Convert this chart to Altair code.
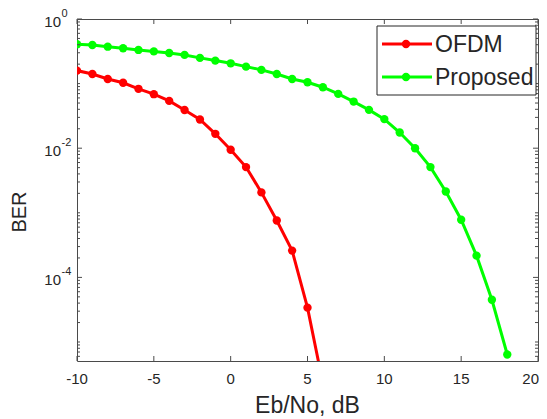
import altair as alt
import pandas as pd

# ---- data ----
series_names = ["OFDM", "Proposed"]
series_colors = ["#ff0000", "#00ff00"]

ebno_ofdm = [-10, -9, -8, -7, -6, -5, -4, -3, -2, -1, 0, 1, 2, 3, 4, 5, 6]
ber_ofdm = [0.159, 0.141, 0.118, 0.103, 0.083, 0.0686, 0.054, 0.039, 0.0278,
            0.0167, 0.00945, 0.0051, 0.00207, 7.6e-4, 2.6e-4, 3.4e-5, 2.3e-6]

ebno_prop = [-10, -9, -8, -7, -6, -5, -4, -3, -2, -1, 0, 1, 2, 3, 4, 5, 6, 7,
             8, 9, 10, 11, 12, 13, 14, 15, 16, 17, 18]
ber_prop = [0.406, 0.396, 0.373, 0.352, 0.332, 0.315, 0.298, 0.278, 0.250,
            0.227, 0.206, 0.183, 0.163, 0.141, 0.118, 0.105, 0.0879, 0.0693,
            0.0527, 0.0392, 0.0282, 0.0175, 0.0100, 0.0051, 0.00214, 7.8e-4,
            2.17e-4, 4.5e-5, 6.4e-6]

x_ticks = [-10, -5, 0, 5, 10, 15, 20]
x_tick_labels = ["-10", "-5", "0", "5", "10", "15", "20"]
y_major = [1, 1e-2, 1e-4]
y_exps = ["0", "-2", "-4"]
y_minor = [m * 10.0 ** k for k in range(-6, 0) for m in range(1, 10)
           if 5.08e-6 <= m * 10.0 ** k < 1]
y_minor = [v for v in y_minor if all(abs(v - t) / t > 1e-9 for t in y_major)]

x_title = "Eb/No, dB"
y_title = "BER"

W, H = 461, 342
TXT = "#262626"
AX = "#4a4a4a"

df = pd.concat([
    pd.DataFrame({"ebno": ebno_ofdm, "ber": ber_ofdm, "series": series_names[0]}),
    pd.DataFrame({"ebno": ebno_prop, "ber": ber_prop, "series": series_names[1]}),
])

xscale = alt.Scale(domain=[-10, 20], nice=False, zero=False)
yscale = alt.Scale(type="log", domain=[5.08e-6, 1], nice=False)
cscale = alt.Scale(domain=series_names, range=series_colors)

base = alt.Chart(df)
lines = base.mark_line(clip=True, strokeWidth=3).encode(
    x=alt.X("ebno:Q", scale=xscale, axis=None),
    y=alt.Y("ber:Q", scale=yscale, axis=None),
    color=alt.Color("series:N", scale=cscale, legend=None),
)
points = base.mark_point(clip=True, filled=True, size=70, opacity=1).encode(
    x=alt.X("ebno:Q", scale=xscale, axis=None),
    y=alt.Y("ber:Q", scale=yscale, axis=None),
    color=alt.Color("series:N", scale=cscale, legend=None),
)

xt = pd.DataFrame({"t": x_ticks, "lab": x_tick_labels})
xt_inner = xt.iloc[:-1]
xt_last = xt.iloc[-1:]
xtick_bot = alt.Chart(xt).mark_rule(color=AX, strokeWidth=1).encode(
    x=alt.X("t:Q", scale=xscale, axis=None), y=alt.value(H), y2=alt.value(H - 5))
xtick_top = alt.Chart(xt).mark_rule(color=AX, strokeWidth=1).encode(
    x=alt.X("t:Q", scale=xscale, axis=None), y=alt.value(0), y2=alt.value(5))
xlabels = alt.Chart(xt_inner).mark_text(align="center", baseline="alphabetic",
                                        fontSize=15, color=TXT).encode(
    x=alt.X("t:Q", scale=xscale, axis=None), y=alt.value(H + 23), text="lab:N")
xlabel_last = alt.Chart(xt_last).mark_text(align="right", baseline="alphabetic",
                                           fontSize=15, color=TXT, dx=1).encode(
    x=alt.X("t:Q", scale=xscale, axis=None), y=alt.value(H + 23), text="lab:N")

ymaj = pd.DataFrame({"v": y_major, "e": y_exps})
ymin = pd.DataFrame({"v": y_minor})
ytick_layers = []
for d, ln in ((ymaj, 5), (ymin, 3)):
    ytick_layers.append(alt.Chart(d).mark_rule(color=AX, strokeWidth=1).encode(
        y=alt.Y("v:Q", scale=yscale, axis=None), x=alt.value(0), x2=alt.value(ln)))
    ytick_layers.append(alt.Chart(d).mark_rule(color=AX, strokeWidth=1).encode(
        y=alt.Y("v:Q", scale=yscale, axis=None), x=alt.value(W), x2=alt.value(W - ln)))

ylab_base = alt.Chart(ymaj).mark_text(align="right", baseline="alphabetic", dy=8,
                                      fontSize=15, color=TXT).encode(
    y=alt.Y("v:Q", scale=yscale, axis=None), x=alt.value(-16), text=alt.value("10"))
ylab_exp = alt.Chart(ymaj).mark_text(align="left", baseline="alphabetic", dy=-2,
                                     fontSize=11, color=TXT).encode(
    y=alt.Y("v:Q", scale=yscale, axis=None), x=alt.value(-15.5), text="e:N")

one = pd.DataFrame({"k": [0]})
ytitle = alt.Chart(one).mark_text(angle=270, fontSize=20, color=TXT,
                                  align="center", baseline="middle").encode(
    x=alt.value(-57), y=alt.value(193), text=alt.value(y_title))
xtitle = alt.Chart(one).mark_text(fontSize=23, color=TXT, align="center",
                                  baseline="alphabetic").encode(
    x=alt.value(W / 2), y=alt.value(H + 52), text=alt.value(x_title))

legend_box = alt.Chart(one).mark_rect(fill="white", stroke=TXT, strokeWidth=1).encode(
    x=alt.value(300), x2=alt.value(459), y=alt.value(7), y2=alt.value(76))
legend_layers = [legend_box]
for i, (name, col) in enumerate(zip(series_names, series_colors)):
    yy = 25 + 33 * i
    ld = pd.DataFrame({"name": [name]})
    legend_layers.append(alt.Chart(ld).mark_rule(color=col, strokeWidth=3).encode(
        x=alt.value(305), x2=alt.value(355), y=alt.value(yy)))
    legend_layers.append(alt.Chart(ld).mark_point(filled=True, size=70, opacity=1,
                                                  color=col).encode(
        x=alt.value(329), y=alt.value(yy)))
    legend_layers.append(alt.Chart(ld).mark_text(align="left", baseline="middle",
                                                 fontSize=23, color=TXT).encode(
        x=alt.value(358), y=alt.value(yy + 1), text="name:N"))

chart = alt.layer(
    lines, points, xtick_bot, xtick_top, xlabels, xlabel_last, *ytick_layers,
    ylab_base, ylab_exp, ytitle, xtitle, *legend_layers,
).properties(
    width=W, height=H,
    padding={"left": 69, "top": 11, "right": 1, "bottom": 60},
    autosize=alt.AutoSizeParams(type="none"),
    background="white",
).configure(font="Liberation Sans").configure_view(stroke=AX, strokeWidth=1)

chart.save("out.html", embed_options={"renderer": "svg", "actions": False})
